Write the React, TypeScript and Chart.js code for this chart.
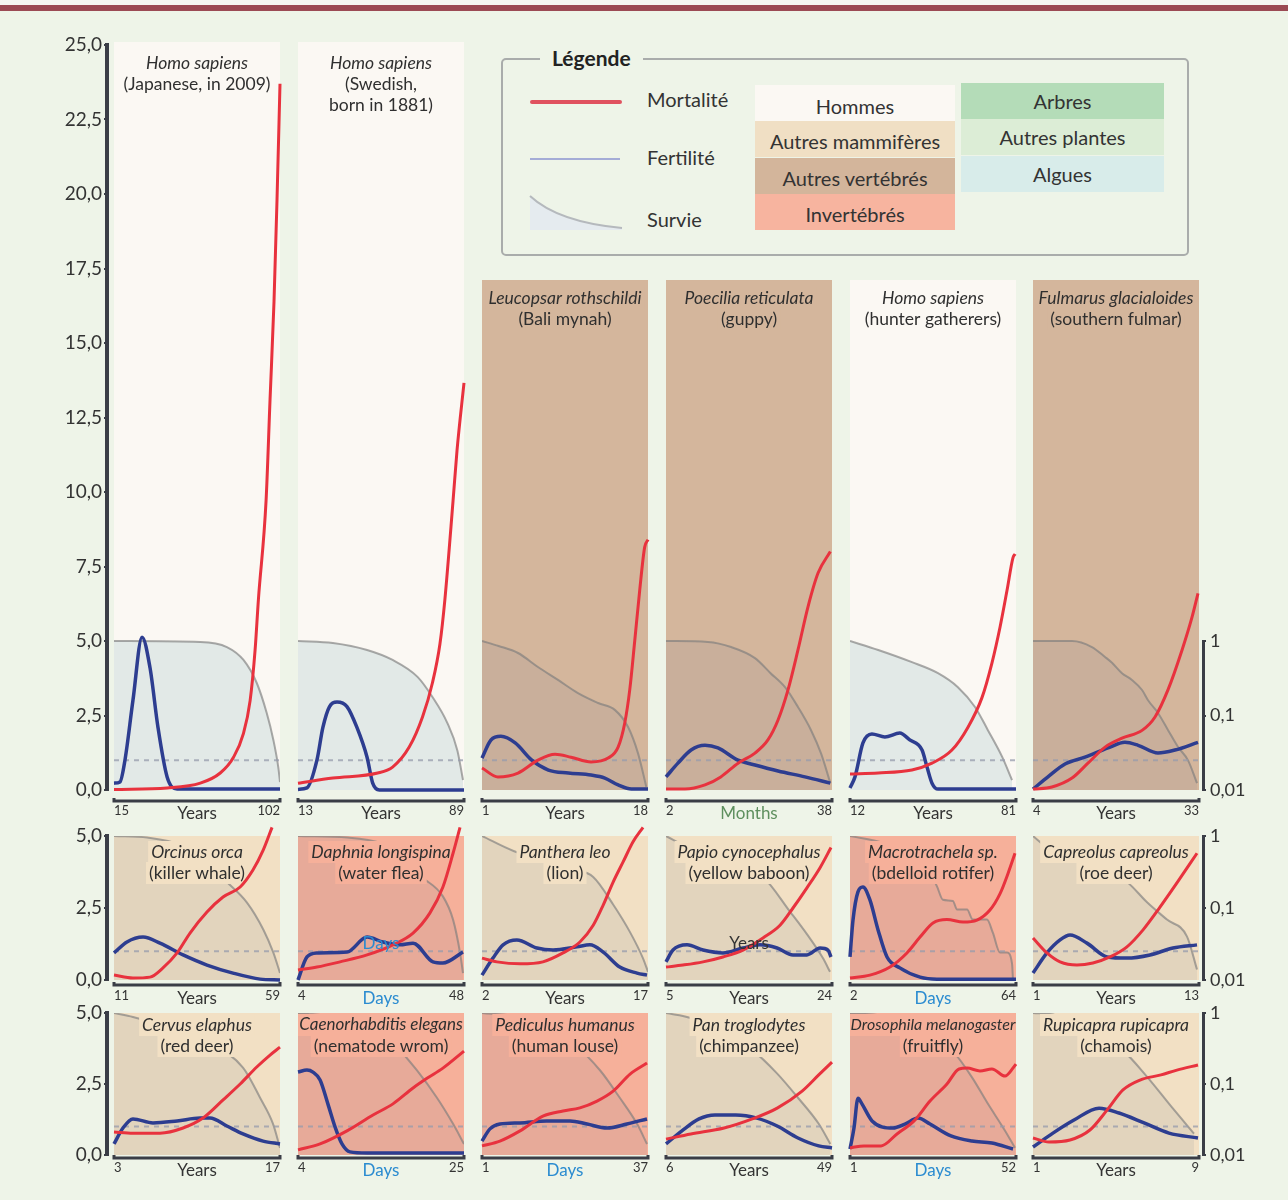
import React, { useEffect, useRef } from "react";
import { Chart, registerables } from "chart.js";

Chart.register(...registerables);
Chart.defaults.font.family = "Lato";
Chart.defaults.color = "#333";

type Pt = [number, number]; // [fraction of the age span, value]

// ---------------- DATA ----------------
// Row 1
const japMort: Pt[] = [[0, 0.02], [0.32, 0.07], [0.52, 0.23], [0.64, 0.57], [0.72, 1.1], [0.78, 1.9], [0.82, 3.0], [0.85, 4.7], [0.87, 6.4], [0.916, 9.7], [0.94, 13.1], [0.964, 16.4], [0.982, 19.8], [1, 23.7]];
const japFert: Pt[] = [[0, 0.23], [0.036, 0.27], [0.066, 1.0], [0.114, 3.0], [0.169, 5.13], [0.217, 4.1], [0.265, 2.1], [0.32, 0.44], [0.38, 0.03], [1, 0.03]];
const japSurv: Pt[] = [[0, 1], [0.52, 0.97], [0.68, 0.83], [0.78, 0.556], [0.86, 0.273], [0.92, 0.108], [0.96, 0.047], [0.99, 0.02], [1, 0.0128]];

const sweMort: Pt[] = [[0, 0.23], [0.21, 0.4], [0.48, 0.57], [0.57, 0.77], [0.67, 1.44], [0.75, 2.45], [0.81, 3.6], [0.855, 4.9], [0.885, 6.4], [0.934, 9.7], [0.958, 11.4], [1, 13.66]];
const sweFert: Pt[] = [[0, 0.02], [0.054, 0.07], [0.114, 1.0], [0.15, 2.1], [0.19, 2.8], [0.235, 2.95], [0.295, 2.8], [0.355, 2.1], [0.416, 1.1], [0.45, 0.23], [0.49, 0.0], [1, 0.0]];
const sweSurv: Pt[] = [[0, 1], [0.21, 0.94], [0.416, 0.757], [0.57, 0.556], [0.72, 0.33], [0.81, 0.177], [0.9, 0.079], [0.96, 0.034], [0.994, 0.0136]];

const mynahMort: Pt[] = [[0, 0.74], [0.096, 0.44], [0.217, 0.57], [0.337, 1.0], [0.44, 1.2], [0.536, 1.1], [0.657, 0.94], [0.76, 1.07], [0.82, 1.44], [0.86, 2.25], [0.89, 3.36], [0.92, 5.0], [0.95, 6.7], [0.98, 8.15], [1, 8.4]];
const mynahFert: Pt[] = [[0, 1.07], [0.054, 1.68], [0.114, 1.8], [0.2, 1.58], [0.3, 1.0], [0.4, 0.67], [0.52, 0.57], [0.657, 0.5], [0.74, 0.4], [0.82, 0.17], [0.9, 0.03], [1, 0.03]];
const mynahSurv: Pt[] = [[0, 1], [0.1, 0.857], [0.217, 0.69], [0.337, 0.448], [0.458, 0.3], [0.578, 0.2], [0.7, 0.147], [0.8, 0.119], [0.88, 0.07], [0.94, 0.031], [0.99, 0.011]];

const guppyMort: Pt[] = [[0, 0.03], [0.114, 0.03], [0.235, 0.17], [0.33, 0.44], [0.434, 0.9], [0.536, 1.24], [0.614, 1.68], [0.675, 2.35], [0.735, 3.36], [0.795, 4.7], [0.855, 6.14], [0.916, 7.28], [0.99, 8.0]];
const guppyFert: Pt[] = [[0, 0.44], [0.072, 0.9], [0.151, 1.34], [0.235, 1.5], [0.313, 1.41], [0.434, 1.0], [0.536, 0.84], [0.675, 0.64], [0.837, 0.44], [0.99, 0.23]];
const guppySurv: Pt[] = [[0, 1], [0.253, 0.97], [0.392, 0.83], [0.536, 0.59], [0.63, 0.37], [0.717, 0.24], [0.795, 0.13], [0.873, 0.064], [0.934, 0.031], [0.99, 0.0124]];

const hunterMort: Pt[] = [[0, 0.54], [0.17, 0.57], [0.373, 0.67], [0.494, 0.9], [0.614, 1.34], [0.71, 2.1], [0.795, 3.1], [0.855, 4.26], [0.904, 5.47], [0.946, 6.7], [0.982, 7.8], [0.995, 7.92]];
const hunterFert: Pt[] = [[0, 0.07], [0.03, 0.44], [0.078, 1.58], [0.132, 1.88], [0.21, 1.78], [0.3, 1.91], [0.36, 1.68], [0.434, 1.34], [0.464, 0.77], [0.494, 0.23], [0.53, 0.03], [1, 0.03]];
const hunterSurv: Pt[] = [[0, 1], [0.17, 0.757], [0.373, 0.52], [0.53, 0.37], [0.65, 0.24], [0.753, 0.13], [0.83, 0.064], [0.916, 0.028], [0.976, 0.0136]];

const fulmarMort: Pt[] = [[0, 0.03], [0.114, 0.1], [0.235, 0.4], [0.331, 0.9], [0.434, 1.44], [0.536, 1.74], [0.657, 2.0], [0.735, 2.45], [0.813, 3.36], [0.898, 4.7], [0.958, 5.8], [0.994, 6.6]];
const fulmarFert: Pt[] = [[0, 0.03], [0.09, 0.44], [0.193, 0.87], [0.313, 1.1], [0.452, 1.41], [0.554, 1.6], [0.633, 1.5], [0.753, 1.24], [0.855, 1.34], [0.994, 1.6]];
const fulmarSurv: Pt[] = [[0, 1], [0.235, 1], [0.355, 0.83], [0.434, 0.61], [0.476, 0.51], [0.536, 0.37], [0.596, 0.3], [0.657, 0.22], [0.693, 0.16], [0.753, 0.108], [0.813, 0.064], [0.873, 0.038], [0.934, 0.025], [0.988, 0.0124]];

// Row 2
const orcaMort: Pt[] = [[0, 0.17], [0.114, 0.07], [0.217, 0.1], [0.295, 0.42], [0.38, 0.94], [0.458, 1.63], [0.56, 2.36], [0.657, 2.88], [0.76, 3.23], [0.837, 3.82], [0.898, 4.5], [0.952, 5.3]];
const orcaFert: Pt[] = [[0, 0.94], [0.078, 1.32], [0.175, 1.49], [0.277, 1.28], [0.416, 0.87], [0.56, 0.52], [0.717, 0.24], [0.88, 0.03], [1, 0.0]];
const orcaSurv: Pt[] = [[0, 1], [0.2, 0.95], [0.4, 0.75], [0.55, 0.45], [0.68, 0.23], [0.8, 0.12], [0.9, 0.05], [0.96, 0.024], [1, 0.0125]];

const daphMort: Pt[] = [[0, 0.35], [0.114, 0.45], [0.253, 0.63], [0.416, 0.87], [0.572, 1.22], [0.693, 1.63], [0.795, 2.33], [0.873, 3.23], [0.934, 4.4], [0.976, 5.3]];
const daphFert: Pt[] = [[0, 0.0], [0.054, 0.8], [0.114, 0.94], [0.295, 0.97], [0.416, 1.49], [0.512, 1.32], [0.614, 1.22], [0.693, 1.28], [0.813, 0.63], [0.873, 0.59], [0.994, 0.97]];
const daphSurv: Pt[] = [[0, 1], [0.3, 0.95], [0.5, 0.8], [0.65, 0.55], [0.72, 0.31], [0.873, 0.145], [0.934, 0.069], [0.976, 0.024], [0.994, 0.0125]];

const lionMort: Pt[] = [[0, 0.76], [0.09, 0.63], [0.23, 0.56], [0.367, 0.63], [0.488, 0.94], [0.59, 1.32], [0.67, 1.9], [0.73, 2.6], [0.79, 3.4], [0.85, 4.1], [0.91, 4.8], [0.97, 5.3]];
const lionFert: Pt[] = [[0, 0.17], [0.066, 0.76], [0.127, 1.22], [0.21, 1.39], [0.331, 1.11], [0.428, 1.04], [0.572, 1.15], [0.65, 1.22], [0.73, 0.97], [0.83, 0.45], [0.934, 0.24], [0.994, 0.17]];
const lionSurv: Pt[] = [[0, 1], [0.19, 0.62], [0.4, 0.45], [0.55, 0.35], [0.67, 0.27], [0.79, 0.112], [0.89, 0.047], [0.97, 0.02], [1, 0.013]];

const baboonMort: Pt[] = [[0, 0.45], [0.102, 0.52], [0.223, 0.63], [0.343, 0.8], [0.464, 1.04], [0.584, 1.46], [0.687, 1.9], [0.765, 2.5], [0.849, 3.2], [0.928, 3.9], [0.994, 4.6]];
const baboonFert: Pt[] = [[0, 0.63], [0.042, 1.04], [0.127, 1.22], [0.223, 1.04], [0.343, 0.94], [0.464, 1.11], [0.566, 1.22], [0.669, 1.11], [0.765, 0.87], [0.849, 0.87], [0.928, 1.11], [0.976, 1.04], [0.994, 0.8]];
const baboonSurv: Pt[] = [[0, 1], [0.13, 0.7], [0.35, 0.45], [0.584, 0.27], [0.747, 0.089], [0.85, 0.043], [0.946, 0.02], [0.988, 0.013]];

const rotiferMort: Pt[] = [[0, 0.07], [0.12, 0.17], [0.241, 0.45], [0.343, 0.94], [0.422, 1.49], [0.5, 1.98], [0.584, 2.1], [0.681, 2.01], [0.765, 2.08], [0.843, 2.43], [0.904, 3.0], [0.952, 3.7], [0.994, 4.4]];
const rotiferFert: Pt[] = [[0, 0.8], [0.018, 2.08], [0.048, 3.06], [0.078, 3.23], [0.12, 2.78], [0.169, 1.74], [0.223, 0.8], [0.3, 0.42], [0.422, 0.1], [0.524, 0.03], [1, 0.03]];
const rotiferSurv: Pt[] = [[0, 1], [0.2, 0.8], [0.4, 0.45], [0.482, 0.31], [0.524, 0.2], [0.56, 0.13], [0.62, 0.125], [0.645, 0.095], [0.705, 0.095], [0.74, 0.069], [0.825, 0.069], [0.861, 0.045], [0.904, 0.024], [0.946, 0.024], [0.976, 0.017], [0.982, 0.01]];

const roeMort: Pt[] = [[0, 1.46], [0.084, 0.94], [0.163, 0.63], [0.265, 0.52], [0.361, 0.59], [0.464, 0.8], [0.566, 1.15], [0.663, 1.74], [0.765, 2.53], [0.867, 3.37], [0.988, 4.4]];
const roeFert: Pt[] = [[0, 0.24], [0.084, 0.94], [0.163, 1.39], [0.223, 1.56], [0.325, 1.28], [0.446, 0.8], [0.566, 0.76], [0.705, 0.87], [0.843, 1.11], [0.988, 1.22]];
const roeSurv: Pt[] = [[0, 1], [0.084, 0.7], [0.3, 0.45], [0.566, 0.23], [0.687, 0.12], [0.807, 0.069], [0.928, 0.04], [0.988, 0.014]];

// Row 3
const redDeerMort: Pt[] = [[0, 0.81], [0.114, 0.77], [0.277, 0.77], [0.416, 0.95], [0.536, 1.3], [0.657, 1.94], [0.76, 2.5], [0.86, 3.1], [0.94, 3.52], [1, 3.8]];
const redDeerFert: Pt[] = [[0, 0.39], [0.054, 0.95], [0.114, 1.27], [0.235, 1.13], [0.38, 1.2], [0.518, 1.3], [0.578, 1.3], [0.68, 1.02], [0.777, 0.74], [0.898, 0.49], [1, 0.39]];
const redDeerSurv: Pt[] = [[0, 1], [0.114, 0.88], [0.35, 0.6], [0.578, 0.375], [0.777, 0.17], [0.88, 0.064], [0.958, 0.0275], [1, 0.0126]];

const nematodeMort: Pt[] = [[0, 0.18], [0.133, 0.39], [0.295, 0.85], [0.452, 1.41], [0.572, 1.8], [0.693, 2.36], [0.777, 2.7], [0.873, 3.06], [1, 3.66]];
const nematodeFert: Pt[] = [[0, 2.92], [0.054, 2.99], [0.09, 2.92], [0.133, 2.64], [0.18, 1.8], [0.223, 0.99], [0.265, 0.39], [0.313, 0.11], [0.416, 0.07], [1, 0.07]];
const nematodeSurv: Pt[] = [[0, 1], [0.25, 0.85], [0.45, 0.6], [0.596, 0.33], [0.717, 0.155], [0.837, 0.064], [0.934, 0.0275], [1, 0.0143]];

const louseMort: Pt[] = [[0, 0.32], [0.108, 0.49], [0.229, 0.85], [0.367, 1.37], [0.488, 1.55], [0.59, 1.66], [0.693, 1.9], [0.79, 2.25], [0.892, 2.85], [0.994, 3.24]];
const louseFert: Pt[] = [[0, 0.49], [0.048, 0.92], [0.108, 1.09], [0.229, 1.13], [0.39, 1.2], [0.53, 1.2], [0.633, 1.09], [0.753, 0.95], [0.873, 1.09], [0.994, 1.27]];
const louseSurv: Pt[] = [[0, 1], [0.2, 0.9], [0.4, 0.65], [0.55, 0.375], [0.712, 0.155], [0.83, 0.064], [0.934, 0.0275], [0.994, 0.0143]];

const chimpMort: Pt[] = [[0, 0.56], [0.15, 0.74], [0.35, 0.95], [0.52, 1.27], [0.67, 1.65], [0.82, 2.25], [0.92, 2.82], [1, 3.27]];
const chimpFert: Pt[] = [[0, 0.39], [0.096, 0.85], [0.199, 1.27], [0.295, 1.41], [0.42, 1.41], [0.548, 1.3], [0.67, 1.02], [0.795, 0.6], [0.92, 0.32], [1, 0.25]];
const chimpSurv: Pt[] = [[0, 1], [0.15, 0.85], [0.35, 0.5], [0.52, 0.3], [0.67, 0.14], [0.795, 0.064], [0.92, 0.0275], [0.99, 0.0143]];

const flyMort: Pt[] = [[0, 0.25], [0.084, 0.32], [0.187, 0.32], [0.283, 0.74], [0.386, 1.2], [0.482, 1.9], [0.584, 2.5], [0.657, 3.03], [0.705, 3.06], [0.783, 2.96], [0.855, 3.03], [0.934, 2.78], [0.982, 3.06], [1, 3.2]];
const flyFert: Pt[] = [[0, 0.21], [0.024, 0.95], [0.048, 2.0], [0.072, 1.8], [0.133, 1.2], [0.259, 0.95], [0.331, 1.09], [0.41, 1.3], [0.482, 1.09], [0.608, 0.67], [0.735, 0.49], [0.855, 0.42], [0.982, 0.21]];
const flySurv: Pt[] = [[0, 1], [0.235, 0.88], [0.45, 0.55], [0.63, 0.27], [0.735, 0.124], [0.83, 0.053], [0.934, 0.022], [0.994, 0.0126]];

const chamoisMort: Pt[] = [[0, 0.6], [0.096, 0.46], [0.223, 0.53], [0.343, 0.88], [0.446, 1.58], [0.542, 2.29], [0.645, 2.64], [0.771, 2.82], [0.867, 2.99], [0.994, 3.17]];
const chamoisFert: Pt[] = [[0, 0.28], [0.12, 0.77], [0.247, 1.23], [0.398, 1.65], [0.518, 1.48], [0.669, 1.13], [0.819, 0.77], [0.994, 0.6]];
const chamoisSurv: Pt[] = [[0, 1], [0.12, 0.95], [0.33, 0.6], [0.54, 0.3], [0.69, 0.124], [0.84, 0.046], [0.97, 0.02]];

// ticks / reference level
const LEFT_TICKS_TALL = [0, 2.5, 5, 7.5, 10, 12.5, 15, 17.5, 20, 22.5, 25];
const LEFT_TICKS_SHORT = [0, 2.5, 5];
const RIGHT_TICKS = [0.01, 0.1, 1];
const REF_LEVEL = 1;

// legend texts
const LEGEND_LINES = ["Mortalité", "Fertilité", "Survie"];
const LEGEND_GROUPS_A = ["Hommes", "Autres mammifères", "Autres vertébrés", "Invertébrés"];
const LEGEND_GROUPS_B = ["Arbres", "Autres plantes", "Algues"];

type Cat = "hommes" | "mammiferes" | "vertebres" | "invertebres";
type Panel = {
  species: string;
  common: string[];
  start: number;
  end: number;
  unit: string;
  cat: Cat;
  mort: Pt[];
  fert: Pt[];
  surv: Pt[];
  note?: string;
};

const ROW1: Panel[] = [
  { species: "Homo sapiens", common: ["(Japanese, in 2009)"], start: 15, end: 102, unit: "Years", cat: "hommes", mort: japMort, fert: japFert, surv: japSurv },
  { species: "Homo sapiens", common: ["(Swedish,", "born in 1881)"], start: 13, end: 89, unit: "Years", cat: "hommes", mort: sweMort, fert: sweFert, surv: sweSurv },
  { species: "Leucopsar rothschildi", common: ["(Bali mynah)"], start: 1, end: 18, unit: "Years", cat: "vertebres", mort: mynahMort, fert: mynahFert, surv: mynahSurv },
  { species: "Poecilia reticulata", common: ["(guppy)"], start: 2, end: 38, unit: "Months", cat: "vertebres", mort: guppyMort, fert: guppyFert, surv: guppySurv },
  { species: "Homo sapiens", common: ["(hunter gatherers)"], start: 12, end: 81, unit: "Years", cat: "hommes", mort: hunterMort, fert: hunterFert, surv: hunterSurv },
  { species: "Fulmarus glacialoides", common: ["(southern fulmar)"], start: 4, end: 33, unit: "Years", cat: "vertebres", mort: fulmarMort, fert: fulmarFert, surv: fulmarSurv },
];
const ROW2: Panel[] = [
  { species: "Orcinus orca", common: ["(killer whale)"], start: 11, end: 59, unit: "Years", cat: "mammiferes", mort: orcaMort, fert: orcaFert, surv: orcaSurv },
  { species: "Daphnia longispina", common: ["(water flea)"], start: 4, end: 48, unit: "Days", cat: "invertebres", mort: daphMort, fert: daphFert, surv: daphSurv, note: "Days" },
  { species: "Panthera leo", common: ["(lion)"], start: 2, end: 17, unit: "Years", cat: "mammiferes", mort: lionMort, fert: lionFert, surv: lionSurv },
  { species: "Papio cynocephalus", common: ["(yellow baboon)"], start: 5, end: 24, unit: "Years", cat: "mammiferes", mort: baboonMort, fert: baboonFert, surv: baboonSurv, note: "Years" },
  { species: "Macrotrachela sp.", common: ["(bdelloid rotifer)"], start: 2, end: 64, unit: "Days", cat: "invertebres", mort: rotiferMort, fert: rotiferFert, surv: rotiferSurv },
  { species: "Capreolus capreolus", common: ["(roe deer)"], start: 1, end: 13, unit: "Years", cat: "mammiferes", mort: roeMort, fert: roeFert, surv: roeSurv },
];
const ROW3: Panel[] = [
  { species: "Cervus elaphus", common: ["(red deer)"], start: 3, end: 17, unit: "Years", cat: "mammiferes", mort: redDeerMort, fert: redDeerFert, surv: redDeerSurv },
  { species: "Caenorhabditis elegans", common: ["(nematode wrom)"], start: 4, end: 25, unit: "Days", cat: "invertebres", mort: nematodeMort, fert: nematodeFert, surv: nematodeSurv },
  { species: "Pediculus humanus", common: ["(human louse)"], start: 1, end: 37, unit: "Days", cat: "invertebres", mort: louseMort, fert: louseFert, surv: louseSurv },
  { species: "Pan troglodytes", common: ["(chimpanzee)"], start: 6, end: 49, unit: "Years", cat: "mammiferes", mort: chimpMort, fert: chimpFert, surv: chimpSurv },
  { species: "Drosophila melanogaster", common: ["(fruitfly)"], start: 1, end: 52, unit: "Days", cat: "invertebres", mort: flyMort, fert: flyFert, surv: flySurv },
  { species: "Rupicapra rupicapra", common: ["(chamois)"], start: 1, end: 9, unit: "Years", cat: "mammiferes", mort: chamoisMort, fert: chamoisFert, surv: chamoisSurv },
];

// ---------------- STYLE / LAYOUT ----------------
const PAGE_BG = "#eef4e8";
const INK = "#333333";
const AXIS_INK = "#3a3d46";
const RED = "#e8323e";
const BLUE = "#2d3d90";
const CAT_COLOR: Record<Cat, string> = {
  hommes: "#fbf8f3",
  mammiferes: "#f2e0c4",
  vertebres: "#d4b69c",
  invertebres: "#f6b09a",
};
const SURV_FILL: Record<Cat, string> = {
  hommes: "rgba(160,195,200,0.28)",
  mammiferes: "rgba(120,135,150,0.13)",
  vertebres: "rgba(120,135,150,0.12)",
  invertebres: "rgba(120,135,150,0.12)",
};
const GROUP_A_COLORS = ["#fbf8f3", "#f0dfc4", "#d3b59b", "#f7b49f"];
const GROUP_B_COLORS = ["#b4dcb8", "#dcedd6", "#d8ecea"];
const UNIT_COLOR: Record<string, string> = { Years: INK, Days: "#2a8bd0", Months: "#5e8f5e" };

const COL_LEFT = [114, 298, 482, 666, 850, 1033];
const PANEL_W = 166;
const PAD_T = 16;
const PAD_X = 4;
const AXIS_H = 34;

type RowGeo = { bottom: number; ppu: number; tops: number[]; tickPad: number; barOff: number; titleOff: number[]; survTop: number };
const ROW_GEO: RowGeo[] = [
  { bottom: 790, ppu: 29.8, tops: [42, 42, 280, 280, 280, 280], tickPad: 13, barOff: 11, titleOff: [21, 21, 18, 18, 18, 18], survTop: 641 },
  { bottom: 980, ppu: 28.8, tops: [836, 836, 836, 836, 836, 836], tickPad: 8, barOff: 5, titleOff: [16, 16, 16, 16, 16, 16], survTop: 836 },
  { bottom: 1155, ppu: 28.4, tops: [1013, 1013, 1013, 1013, 1013, 1013], tickPad: 5, barOff: 3, titleOff: [12, 12, 12, 12, 12, 12], survTop: 1013 },
];

const comma = (v: number) => String(v).replace(".", ",");

function ChartBox({ left, top, width, height, make }: { left: number; top: number; width: number; height: number; make: () => any }) {
  const ref = useRef<HTMLCanvasElement | null>(null);
  useEffect(() => {
    const chart = new Chart(ref.current as HTMLCanvasElement, make());
    return () => chart.destroy();
  }, []);
  return (
    <canvas
      ref={ref}
      width={width}
      height={height}
      style={{ position: "absolute", left, top, width, height }}
    />
  );
}

function drawTitle(chart: any, p: Panel, offset: number) {
  const { ctx, chartArea: a } = chart;
  const cx = (a.left + a.right) / 2;
  const lines = [{ t: p.species, it: true, size: 17.5 }, ...p.common.map((t) => ({ t, it: false, size: 17.5 }))];
  ctx.save();
  ctx.textAlign = "center";
  ctx.textBaseline = "middle";
  lines.forEach((ln, i) => {
    let size = ln.size;
    const fontOf = (s: number) => `${ln.it ? "italic " : ""}${s}px Lato`;
    ctx.font = fontOf(size);
    let w = ctx.measureText(ln.t).width;
    while (w > a.width + 2 && size > 9) {
      size -= 0.5;
      ctx.font = fontOf(size);
      w = ctx.measureText(ln.t).width;
    }
    const cy = a.top + offset + i * 21;
    ctx.fillStyle = CAT_COLOR[p.cat];
    ctx.fillRect(Math.max(a.left, cx - w / 2 - 3), cy - 11, Math.min(a.width, w + 6), 22);
    ctx.fillStyle = "#2f2f2f";
    ctx.fillText(ln.t, cx, cy);
  });
  ctx.restore();
}

function panelConfig(p: Panel, g: RowGeo, col: number) {
  const top = g.tops[col];
  const yMax = (g.bottom - top) / g.ppu;
  const survMax = Math.pow(10, -2 + (2 * yMax) / 5);
  const toXY = (arr: Pt[]) => arr.map(([x, y]) => ({ x, y }));
  const unitColor = UNIT_COLOR[p.unit] || INK;
  const deco = {
    id: "panelDeco",
    beforeDatasetsDraw(chart: any) {
      const { ctx, chartArea: a } = chart;
      ctx.save();
      ctx.fillStyle = CAT_COLOR[p.cat];
      ctx.fillRect(a.left, a.top, a.width, a.height);
      ctx.restore();
    },
    afterDatasetDraw(chart: any, args: any) {
      if (args.index === 3) drawTitle(chart, p, g.titleOff[col]);
    },
    afterDatasetsDraw(chart: any) {
      if (!p.note) return;
      const { ctx } = chart;
      const x = chart.scales.x.getPixelForValue(0.5);
      const y = chart.scales.y.getPixelForValue(1.28);
      ctx.save();
      ctx.font = "17px Lato";
      ctx.textAlign = "center";
      ctx.textBaseline = "middle";
      ctx.fillStyle = UNIT_COLOR[p.note] || INK;
      ctx.fillText(p.note, x, y);
      ctx.restore();
    },
    afterDraw(chart: any) {
      const { ctx, chartArea: a } = chart;
      const y = a.bottom + g.barOff;
      ctx.save();
      ctx.strokeStyle = AXIS_INK;
      ctx.lineWidth = 3;
      ctx.beginPath();
      ctx.moveTo(a.left, y - 3);
      ctx.lineTo(a.left, y);
      ctx.lineTo(a.right, y);
      ctx.lineTo(a.right, y - 3);
      ctx.stroke();
      ctx.restore();
    },
  };
  return {
    type: "line",
    data: {
      datasets: [
        { data: toXY(p.mort), borderColor: RED, borderWidth: 3, yAxisID: "y", clip: false, capBezierPoints: false },
        { data: toXY(p.fert), borderColor: BLUE, borderWidth: 3.5, yAxisID: "y", clip: false, capBezierPoints: false },
        {
          data: [{ x: 0, y: REF_LEVEL }, { x: 1, y: REF_LEVEL }],
          borderColor: "rgba(150,155,172,0.75)",
          borderWidth: 2,
          borderDash: [5, 5],
          yAxisID: "y",
        },
        {
          data: toXY(p.surv),
          borderColor: "rgba(125,125,125,0.65)",
          borderWidth: 2,
          backgroundColor: SURV_FILL[p.cat],
          fill: "start",
          yAxisID: "yS",
        },
      ],
    },
    options: {
      responsive: false,
      animation: false,
      events: [],
      layout: { padding: { top: PAD_T, left: PAD_X, right: PAD_X, bottom: 0 } },
      elements: { point: { radius: 0 }, line: { cubicInterpolationMode: "monotone" } },
      plugins: { legend: { display: false }, tooltip: { enabled: false } },
      scales: {
        x: {
          type: "linear",
          min: 0,
          max: 1,
          afterFit: (s: any) => {
            s.height = AXIS_H;
            s.paddingLeft = 0;
            s.paddingRight = 0;
          },
          afterBuildTicks: (s: any) => {
            s.ticks = [0, 0.5, 1].map((v) => ({ value: v }));
          },
          grid: { display: false, drawTicks: false },
          border: { display: false },
          ticks: {
            autoSkip: false,
            maxRotation: 0,
            minRotation: 0,
            align: "inner",
            padding: g.tickPad,
            callback: (_v: any, i: number) => (i === 0 ? String(p.start) : i === 1 ? p.unit : String(p.end)),
            font: (c: any) => (c.index === 1 ? { family: "Lato", size: 17 } : { family: "Lato", size: 13 }),
            color: (c: any) => (c.index === 1 ? unitColor : INK),
          },
        },
        y: { type: "linear", display: false, min: 0, max: yMax },
        yS: { type: "logarithmic", display: false, min: 0.01, max: survMax },
      },
    },
    plugins: [deco],
  };
}

function leftAxisConfig(max: number, ticks: number[]) {
  return {
    type: "line",
    data: { datasets: [] },
    options: {
      responsive: false,
      animation: false,
      events: [],
      layout: { padding: { top: 16, bottom: 16, left: 0, right: 2 } },
      plugins: { legend: { display: false }, tooltip: { enabled: false } },
      scales: {
        x: { type: "linear", display: false, min: 0, max: 1 },
        y: {
          type: "linear",
          position: "left",
          min: 0,
          max,
          afterFit: (s: any) => {
            s.width = 65;
          },
          afterBuildTicks: (s: any) => {
            s.ticks = ticks.map((v) => ({ value: v }));
          },
          ticks: {
            callback: (v: any) => Number(v).toFixed(1).replace(".", ","),
            font: { family: "Lato", size: 19 },
            color: INK,
            padding: 2,
          },
          grid: { drawOnChartArea: false, drawTicks: true, tickLength: 3, color: AXIS_INK, lineWidth: 2 },
          border: { display: true, color: AXIS_INK, width: 4 },
        },
      },
    },
  };
}

function rightAxisConfig() {
  return {
    type: "line",
    data: { datasets: [] },
    options: {
      responsive: false,
      animation: false,
      events: [],
      layout: { padding: { top: 16, bottom: 16, left: 3, right: 0 } },
      plugins: { legend: { display: false }, tooltip: { enabled: false } },
      scales: {
        x: { type: "linear", display: false, min: 0, max: 1 },
        y: {
          type: "logarithmic",
          position: "right",
          min: 0.01,
          max: 1,
          afterFit: (s: any) => {
            s.width = 55;
          },
          afterBuildTicks: (s: any) => {
            s.ticks = RIGHT_TICKS.map((v) => ({ value: v }));
          },
          ticks: {
            callback: (v: any) => comma(Number(v)),
            font: { family: "Lato", size: 18 },
            color: INK,
            padding: 4,
          },
          grid: { drawOnChartArea: false, drawTicks: true, tickLength: 3, color: AXIS_INK, lineWidth: 2 },
          border: { display: true, color: AXIS_INK, width: 3 },
        },
      },
    },
  };
}

function Legend() {
  const txt: React.CSSProperties = { position: "absolute", fontSize: 20, color: INK, lineHeight: "24px", whiteSpace: "nowrap" };
  return (
    <>
      <div
        style={{
          position: "absolute",
          left: 501,
          top: 58,
          width: 688,
          height: 198,
          border: "2px solid #a9acab",
          borderRadius: 5,
          boxSizing: "border-box",
        }}
      />
      <div
        style={{
          position: "absolute",
          left: 540,
          top: 45,
          padding: "0 12px",
          background: PAGE_BG,
          fontWeight: 700,
          fontSize: 21,
          lineHeight: "26px",
          color: "#222",
        }}
      >
        Légende
      </div>
      <div style={{ position: "absolute", left: 530, top: 100, width: 92, height: 4, background: "#e0525f", borderRadius: 2 }} />
      <div style={{ position: "absolute", left: 530, top: 158, width: 90, height: 2, background: "#a4acd6" }} />
      <svg style={{ position: "absolute", left: 528, top: 192 }} width={98} height={42}>
        <path d="M2 4 Q 30 30 94 36 L 94 38 L 2 38 Z" fill="#e5ebef" />
        <path d="M2 4 Q 30 30 94 36" fill="none" stroke="#b5b9bd" strokeWidth={2} />
      </svg>
      <div style={{ ...txt, left: 647, top: 87 }}>{LEGEND_LINES[0]}</div>
      <div style={{ ...txt, left: 647, top: 145 }}>{LEGEND_LINES[1]}</div>
      <div style={{ ...txt, left: 647, top: 207 }}>{LEGEND_LINES[2]}</div>
      {LEGEND_GROUPS_A.map((lab, i) => (
        <div
          key={lab}
          style={{
            position: "absolute",
            left: 755,
            top: 85 + i * 36.3,
            width: 200,
            height: 36,
            background: GROUP_A_COLORS[i],
            fontSize: 20,
            color: INK,
            textAlign: "center",
            lineHeight: i === 0 ? "42px" : "40px",
          }}
        >
          {lab}
        </div>
      ))}
      {LEGEND_GROUPS_B.map((lab, i) => (
        <div
          key={lab}
          style={{
            position: "absolute",
            left: 961,
            top: 83 + i * 36.3,
            width: 203,
            height: 36,
            background: GROUP_B_COLORS[i],
            fontSize: 20,
            color: INK,
            textAlign: "center",
            lineHeight: "36px",
          }}
        >
          {lab}
        </div>
      ))}
    </>
  );
}

export default function App() {
  const rows = [ROW1, ROW2, ROW3];
  return (
    <div
      style={{
        position: "absolute",
        left: 0,
        top: 0,
        width: 1288,
        height: 1200,
        background: PAGE_BG,
        overflow: "hidden",
        fontFamily: "Lato, sans-serif",
      }}
    >
      <div style={{ position: "absolute", left: 0, top: 0, width: 1288, height: 5, background: "#f5f7f2" }} />
      <div style={{ position: "absolute", left: 0, top: 5, width: 1288, height: 6, background: "#9b4a54" }} />
      <Legend />
      {ROW_GEO.map((g, r) => {
        const max = r === 0 ? 25 : 5;
        const ticks = r === 0 ? LEFT_TICKS_TALL : LEFT_TICKS_SHORT;
        const caTop = g.bottom - max * g.ppu;
        return (
          <React.Fragment key={"ax" + r}>
            <ChartBox
              left={42}
              top={caTop - 16}
              width={70}
              height={g.bottom - caTop + 32}
              make={() => leftAxisConfig(max, ticks)}
            />
            <ChartBox
              left={1196}
              top={g.survTop - 16}
              width={62}
              height={g.bottom - g.survTop + 32}
              make={() => rightAxisConfig()}
            />
          </React.Fragment>
        );
      })}
      {rows.map((row, r) =>
        row.map((p, c) => {
          const g = ROW_GEO[r];
          const top = g.tops[c];
          return (
            <ChartBox
              key={`p${r}-${c}`}
              left={COL_LEFT[c] - PAD_X}
              top={top - PAD_T}
              width={PANEL_W + 2 * PAD_X}
              height={PAD_T + (g.bottom - top) + AXIS_H}
              make={() => panelConfig(p, g, c)}
            />
          );
        })
      )}
    </div>
  );
}
